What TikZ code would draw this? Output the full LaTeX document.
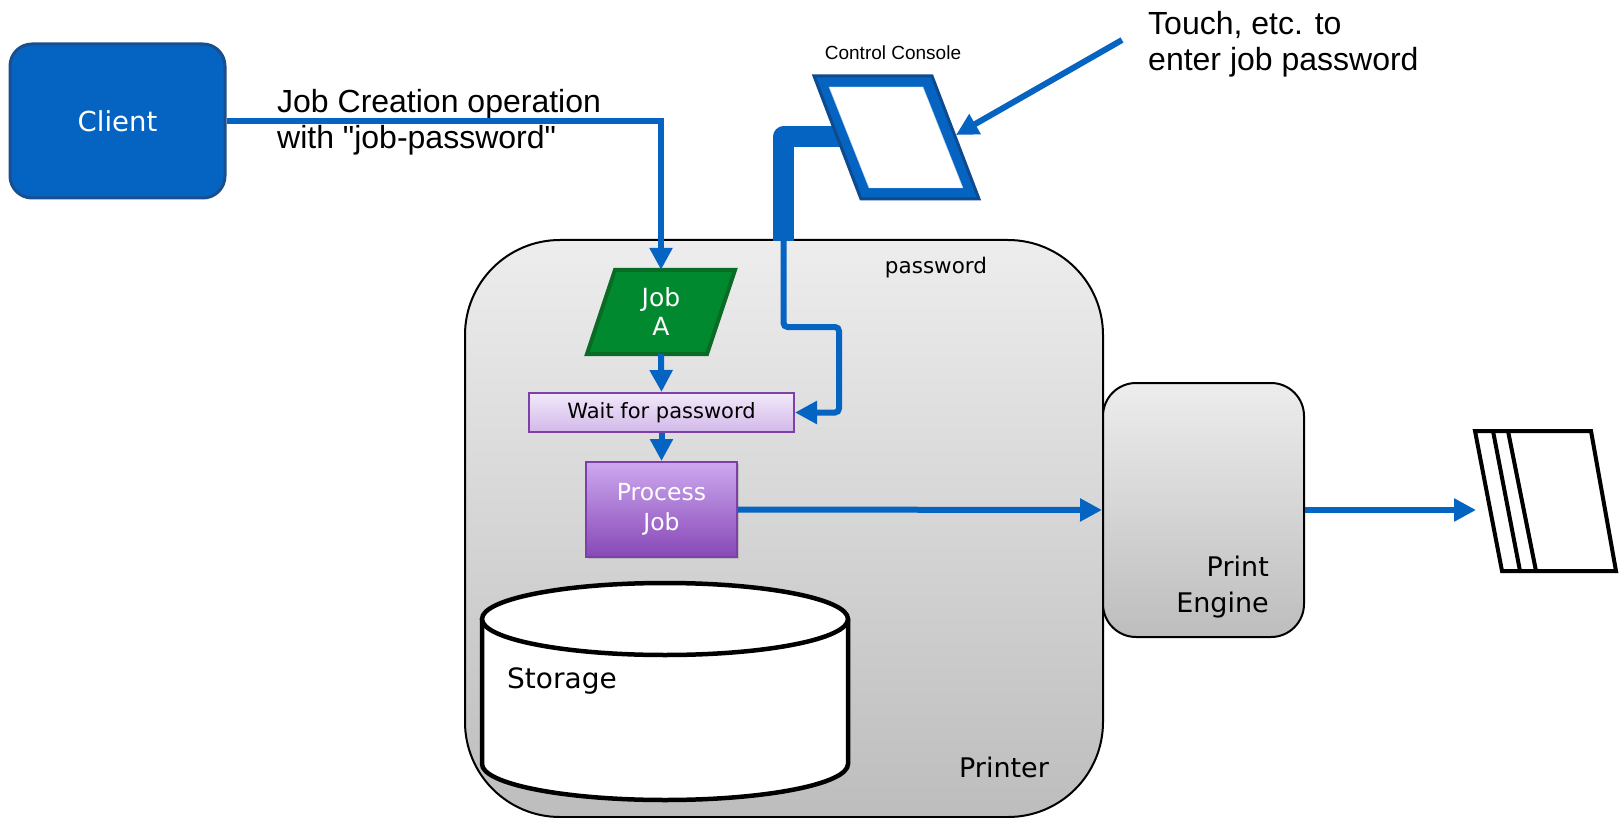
\documentclass[tikz,border=0pt]{standalone}
\usepackage{fontspec}
\setmainfont{DejaVu Sans}
\newfontfamily\arialfont{Liberation Sans}
\usepackage{xcolor}
\usetikzlibrary{positioning}
\usetikzlibrary{shadows}
\usetikzlibrary{arrows.meta}

\definecolor{lineblue}{HTML}{0563C1}
\definecolor{clientrim}{HTML}{1A4F8F}
\definecolor{consolerim}{HTML}{0D4A8E}
\definecolor{jobgreen}{HTML}{00892F}
\definecolor{jobrim}{HTML}{0A6B27}
\definecolor{waittop}{HTML}{F1E8F9}
\definecolor{waitbot}{HTML}{D3B9EA}
\definecolor{purplerim}{HTML}{7E3FA8}
\definecolor{proctop}{HTML}{CDA8EF}
\definecolor{procbot}{HTML}{8748B7}
\definecolor{boxtop}{HTML}{EDEDED}
\definecolor{boxbot}{HTML}{BDBDBD}

\tikzset{
  flow/.style={draw=lineblue, line width=6pt, -{Triangle[length=22pt,width=22pt]}},
  greybox/.style={draw=black, line width=2pt, top color=boxtop, bottom color=boxbot},
  lbl/.style={inner sep=0pt, font=\fontsize{27}{36}\selectfont},
  note/.style={inner sep=0pt, align=left, font=\arialfont\fontsize{32}{36}\selectfont},
  clientbox/.style={draw=clientrim, line width=3pt, fill=lineblue, rounded corners=22pt,
    minimum width=215pt, minimum height=154pt, text=white, font=\fontsize{27.5}{32}\selectfont},
  jobshape/.style={draw=jobrim, line width=4pt, fill=jobgreen},
  jobtxt/.style={inner sep=0pt, minimum width=90pt, minimum height=84pt, align=center,
    text=white, font=\fontsize{25}{29}\selectfont},
  waitbox/.style={draw=purplerim, line width=2pt, top color=waittop, bottom color=waitbot,
    minimum width=265pt, minimum height=39pt, inner sep=0pt, font=\fontsize{21}{25}\selectfont},
  procbox/.style={draw=purplerim, line width=2pt, top color=proctop, bottom color=procbot,
    minimum width=151pt, minimum height=95pt, inner sep=0pt, text=white,
    drop shadow={shadow xshift=2pt, shadow yshift=-2pt, opacity=.3},
    font=\fontsize{23.5}{30}\selectfont},
  store/.style={draw=black, line width=4.5pt, fill=white},
  sheetline/.style={draw=black, line width=4pt}
}

\begin{document}
\begin{tikzpicture}[x=1pt,y=-1pt]
  \useasboundingbox (0,0) rectangle (1619,818);

  % printer and print engine
  \node[greybox, rounded corners=95pt, minimum width=638pt, minimum height=577pt] (printer) at (784,528.5) {};
  \node[greybox, rounded corners=33pt, minimum width=201pt, minimum height=254pt] (engine) at (1203.5,510) {};
  \node[lbl, anchor=east, align=right] (engtxt) at (1269,587) {Print\\Engine};
  \node[lbl] (prtxt) at (1004,767) {Printer};
  \node[inner sep=0pt, font=\fontsize{21.5}{25}\selectfont] (pwtxt) at (936,268) {password};

  % storage
  \draw[store] (482,619) -- (482,764) arc[start angle=180, end angle=0, x radius=183, y radius=36] -- (848,619);
  \draw[store] (665,619) ellipse [x radius=183, y radius=36];
  \node[lbl, anchor=west, font=\fontsize{28}{34}\selectfont] (storage) at (507,681) {Storage};

  % job flow
  \draw[jobshape] (615,270) -- (735,270) -- (707,354) -- (587,354) -- cycle;
  \node[jobtxt] (joba) at (661,312) {Job\\A};
  \node[waitbox] (wait) at (661.5,412.5) {\raisebox{-4pt}{Wait for password}};
  \node[procbox] (proc) at (661.5,509.5) {\raisebox{-4.5pt}{\begin{tabular}{@{}c@{}}Process\\Job\end{tabular}}};

  \node[clientbox] (client) at (117.5,121) {Client};
  \node[note, anchor=west] (jobop) at (277,122.5) {Job Creation operation\\with "job-password"};

  % control console
  \draw[line width=21pt, lineblue, line join=round] (850,137) -- (783.5,137) -- (783.5,241);
  \draw[draw=consolerim, line width=3pt, fill=lineblue] (814,76) -- (932,76) -- (979,199) -- (861,199) -- cycle;
  \draw[draw=lineblue!35, fill=white] (829,87) -- (923,87) -- (963,188) -- (869,188) -- cycle;
  \node[inner sep=0pt, font=\arialfont\fontsize{19}{22}\selectfont] (contxt) at (893,53) {Control Console};
  \node[note, anchor=west] (touch) at (1148,44.5) {Touch, etc. to\\enter job password};

  \coordinate (cable) at (783.5,240);
  \coordinate (tapfrom) at (1122,40);
  \coordinate (tapto) at (956,135);
  \coordinate (sheet) at (1476,510);

  \draw[flow] (client.east) -| (joba.north);
  \draw[flow] (joba.south) -- (wait.north);
  \draw[flow] (wait.south) -- (proc.north);
  \draw[flow, rounded corners=4pt] (cable) |- (839,327) |- (wait.east);
  \draw[flow] (proc.east) -- (engine.west);
  \draw[flow] (engine.east) -- (sheet);
  \draw[flow] (tapfrom) -- (tapto);

  % printed sheets
  \draw[sheetline] (1475,431) -- (1591,431) -- (1616,571) -- (1502,571) -- cycle;
  \draw[sheetline] (1493,431) -- (1520,571);
  \draw[sheetline] (1508,431) -- (1536,571);
\end{tikzpicture}
\end{document}
